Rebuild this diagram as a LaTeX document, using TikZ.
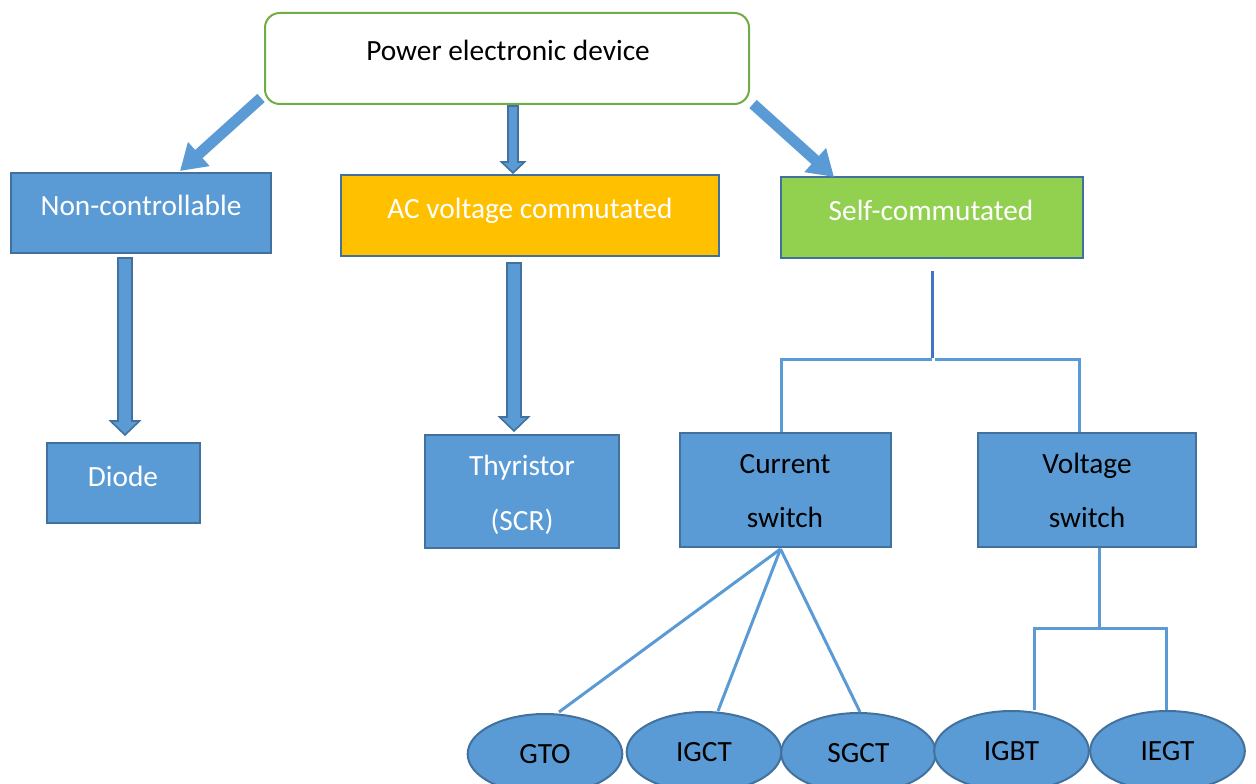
\documentclass[tikz,border=0pt]{standalone}
\usepackage{fontspec}
\setmainfont{Carlito}
\usetikzlibrary{arrows.meta,calc,shapes.geometric}
\definecolor{bfill}{HTML}{5B9BD5}
\definecolor{bdraw}{HTML}{41719C}
\definecolor{gdraw}{HTML}{70AD47}
\definecolor{acfill}{HTML}{FFC000}
\definecolor{scfill}{HTML}{92D050}
\definecolor{dline}{HTML}{4472C4}
\newcommand{\blkarrow}[5]{%
  \filldraw[blockarrow] let \p1=(#1), \p2=(#2) in
    (\x1-#3*0.75pt,\y1) -- (\x1+#3*0.75pt,\y1) -- (\x1+#3*0.75pt,\y2+#5*0.75pt)
    -- (\x1+#4*0.75pt,\y2+#5*0.75pt) -- (\x1,\y2) -- (\x1-#4*0.75pt,\y2+#5*0.75pt)
    -- (\x1-#3*0.75pt,\y2+#5*0.75pt) -- cycle;}
\tikzset{
  lbl/.style={font=\fontsize{22}{26}\selectfont, inner sep=0pt, text height=0.68em, text depth=0pt},
  box/.style={draw=bdraw, fill=bfill, line width=1.5pt, inner sep=0pt},
  oval/.style={ellipse, draw=bdraw, fill=bfill, line width=1.5pt, minimum width=116pt, minimum height=60pt, inner sep=0pt, font=\fontsize{22}{26}\selectfont},
  blockarrow/.style={fill=bfill, draw=bdraw, line width=1.2pt, line join=miter},
  fatarrow/.style={draw=bfill, line width=8.25pt, -{Triangle[width=23pt,length=19pt]}},
  conn/.style={draw=bfill, line width=2.25pt},
  dconn/.style={draw=dline, line width=2.25pt},
}
\begin{document}
\begin{tikzpicture}[x=0.75pt,y=-0.75pt]
\useasboundingbox (0,0) rectangle (1256,784);
\clip (0,0) rectangle (1256,784);
% boxes
\node[draw=gdraw, fill=white, line width=1.5pt, rounded corners=11pt, minimum width=363pt, minimum height=68.25pt] (pe) at (507,58.5) {};
\node[lbl] (pet) at (508,56) {Power electronic device};
\node[box, minimum width=195pt, minimum height=60pt] (nc) at (141,213) {};
\node[lbl, text=white] (nct) at (141,211) {Non-controllable};
\node[box, fill=acfill, minimum width=283.5pt, minimum height=60.75pt] (ac) at (530,215.5) {};
\node[lbl, text=white] (act) at (530,214) {AC voltage commutated};
\node[box, fill=scfill, minimum width=226.5pt, minimum height=60.75pt] (sc) at (932,217.5) {};
\node[lbl, text=white] (sct) at (931,216) {Self-commutated};
\node[box, minimum width=114.75pt, minimum height=60pt] (diode) at (123.5,483) {};
\node[lbl, text=white] (diodet) at (123,482) {Diode};
\node[box, minimum width=145.5pt, minimum height=84.75pt] (thy) at (522,491.5) {};
\node[lbl, text=white] (thyt1) at (522,471) {Thyristor};
\node[lbl, text=white] (thyt2) at (522,526) {(SCR)};
\node[box, minimum width=158.25pt, minimum height=85.5pt] (cs) at (785.5,490) {};
\node[lbl] (cst1) at (785,469) {Current};
\node[lbl] (cst2) at (785,523) {switch};
\node[box, minimum width=163.5pt, minimum height=85.5pt] (vs) at (1087,490) {};
\node[lbl] (vst1) at (1087,469) {Voltage};
\node[lbl] (vst2) at (1087,523) {switch};
% ellipses
\node[oval] (gto) at (545,754) {GTO};
\node[oval] (igct) at (704,752) {IGCT};
\node[oval] (sgct) at (858.5,753) {SGCT};
\node[oval] (igbt) at (1011.5,751) {IGBT};
\node[oval] (iegt) at (1167.5,751) {IEGT};
% top arrows
\draw[fatarrow] ($(pe.south west)+(-3,-7)$) -- ($(nc.north)+(39,-1)$);
\draw[fatarrow] ($(pe.south east)+(3,-1)$) -- ($(sc.north)+(-98,1)$);
\coordinate (m1) at ($(pe.south)+(6,1)$);
\coordinate (m2) at ($(ac.north)+(-17,-1)$);
\blkarrow{m1}{m2}{5}{11.5}{11}
\coordinate (d1) at ($(diode.north|-nc.south)+(1.5,4)$);
\coordinate (d2) at ($(diode.north)+(1.5,-7)$);
\blkarrow{d1}{d2}{7}{14.5}{14}
\coordinate (t1) at ($(ac.south)+(-16,6)$);
\coordinate (t2) at ($(thy.north)+(-8,-3)$);
\blkarrow{t1}{t2}{7}{14.5}{14}
% self-commutated tree
\draw[dconn] ($(sc.south)+(0,12)$) -- ($(sc.south)+(0,99)$);
\draw[conn] ($(cs.north)+(-4.5,0)$) |- ($(sc.south)+(0,100)$);
\draw[conn] ($(sc.south)+(3,100)$) -| ($(vs.north)+(-8,0)$);
% current switch fan
\coordinate (csb) at ($(cs.south)+(-5,1)$);
\draw[conn] (csb) -- ($(gto.north)+(14,-1)$);
\draw[conn] (csb) -- ($(igct.north)+(14,0)$);
\draw[conn] (csb) -- ($(sgct.north)+(1.5,0)$);
% voltage switch tree
\draw[conn] ($(vs.south)+(12,0)$) -- ($(vs.south)+(12,80)$);
\draw[conn] ($(igbt.north)+(22.5,0)$) |- ($(vs.south)+(12,80)$) -| ($(iegt.north)+(-1.5,0)$);
\end{tikzpicture}
\end{document}
